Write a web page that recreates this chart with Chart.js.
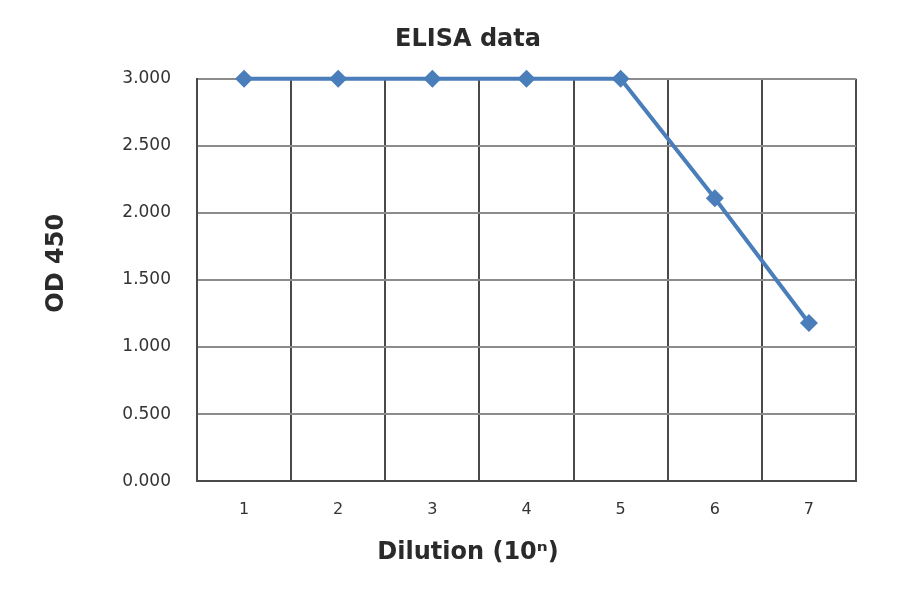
<!DOCTYPE html>
<html>
<head>
<meta charset="utf-8">
<script src="https://cdn.jsdelivr.net/npm/chart.js@4/dist/chart.umd.min.js"></script>
<style>
  html, body { margin: 0; padding: 0; background: #fff; }
  #wrap { width: 900px; height: 594px; }
</style>
</head>
<body>
<div id="wrap"><canvas id="myChart" width="900" height="594"></canvas></div>
<script>
// values
var dilutions = ['1', '2', '3', '4', '5', '6', '7'];
var od450 = [3.0, 3.0, 3.0, 3.0, 3.0, 2.11, 1.18];
var yTicks = [0, 0.5, 1.0, 1.5, 2.0, 2.5, 3.0];

var blue = '#4a7ebb';
var font = '"DejaVu Sans", "Noto Sans", sans-serif';

var ctx = document.getElementById('myChart').getContext('2d');
var elisaChart = new Chart(ctx, {
  type: 'line',
  data: {
    labels: dilutions,
    datasets: [{
      data: od450,
      borderColor: blue,
      backgroundColor: blue,
      borderWidth: 4,
      pointStyle: 'rectRot',
      pointRadius: 9,
      pointBorderWidth: 0,
      tension: 0,
      clip: false
    }]
  },
  options: {
    responsive: false,
    animation: false,
    // uneven padding so title and x caption sit left of the plot centre, like the original
    layout: { padding: { left: 42, right: 6, top: 0, bottom: 0 } },
    plugins: {
      legend: { display: false },
      tooltip: { enabled: false },
      title: {
        display: true,
        text: 'ELISA data',
        color: '#2a2a2a',
        font: { family: font, size: 24, weight: 'bold' },
        padding: { top: 25, bottom: 25 }
      },
      subtitle: {
        display: true,
        position: 'bottom',
        text: 'Dilution (10ⁿ)',
        color: '#2a2a2a',
        font: { family: font, size: 24, weight: 'bold' },
        padding: { top: 19, bottom: 27 }
      }
    },
    scales: {
      x: {
        offset: true,
        afterFit: function (axis) { axis.height = 38; },
        grid: { offset: true, color: '#4a4a4a', lineWidth: 2, drawTicks: false },
        border: { color: '#4a4a4a', width: 2 },
        ticks: { color: '#333', padding: 19, font: { family: font, size: 16 } }
      },
      y: {
        min: 0,
        max: 3,
        afterBuildTicks: function (axis) {
          axis.ticks = yTicks.map(function (v) { return { value: v }; });
        },
        afterFit: function (axis) { axis.width = 197 - 42; },
        grid: { color: '#8c8c8c', lineWidth: 2, drawTicks: false },
        border: { color: '#4a4a4a', width: 2 },
        ticks: {
          color: '#333',
          padding: 26,
          font: { family: font, size: 17 },
          callback: function (v) { return v.toFixed(3); }
        },
        title: {
          display: true,
          text: '    OD 450',
          color: '#2a2a2a',
          font: { family: font, size: 24, weight: 'bold' },
          padding: 0
        }
      },
      // empty right axis, only keeps the plot's right edge in place
      y2: {
        position: 'right',
        display: true,
        afterFit: function (axis) { axis.width = 900 - 6 - 856; },
        grid: { display: false },
        border: { display: false },
        ticks: { display: false }
      }
    }
  }
});
</script>
</body>
</html>
